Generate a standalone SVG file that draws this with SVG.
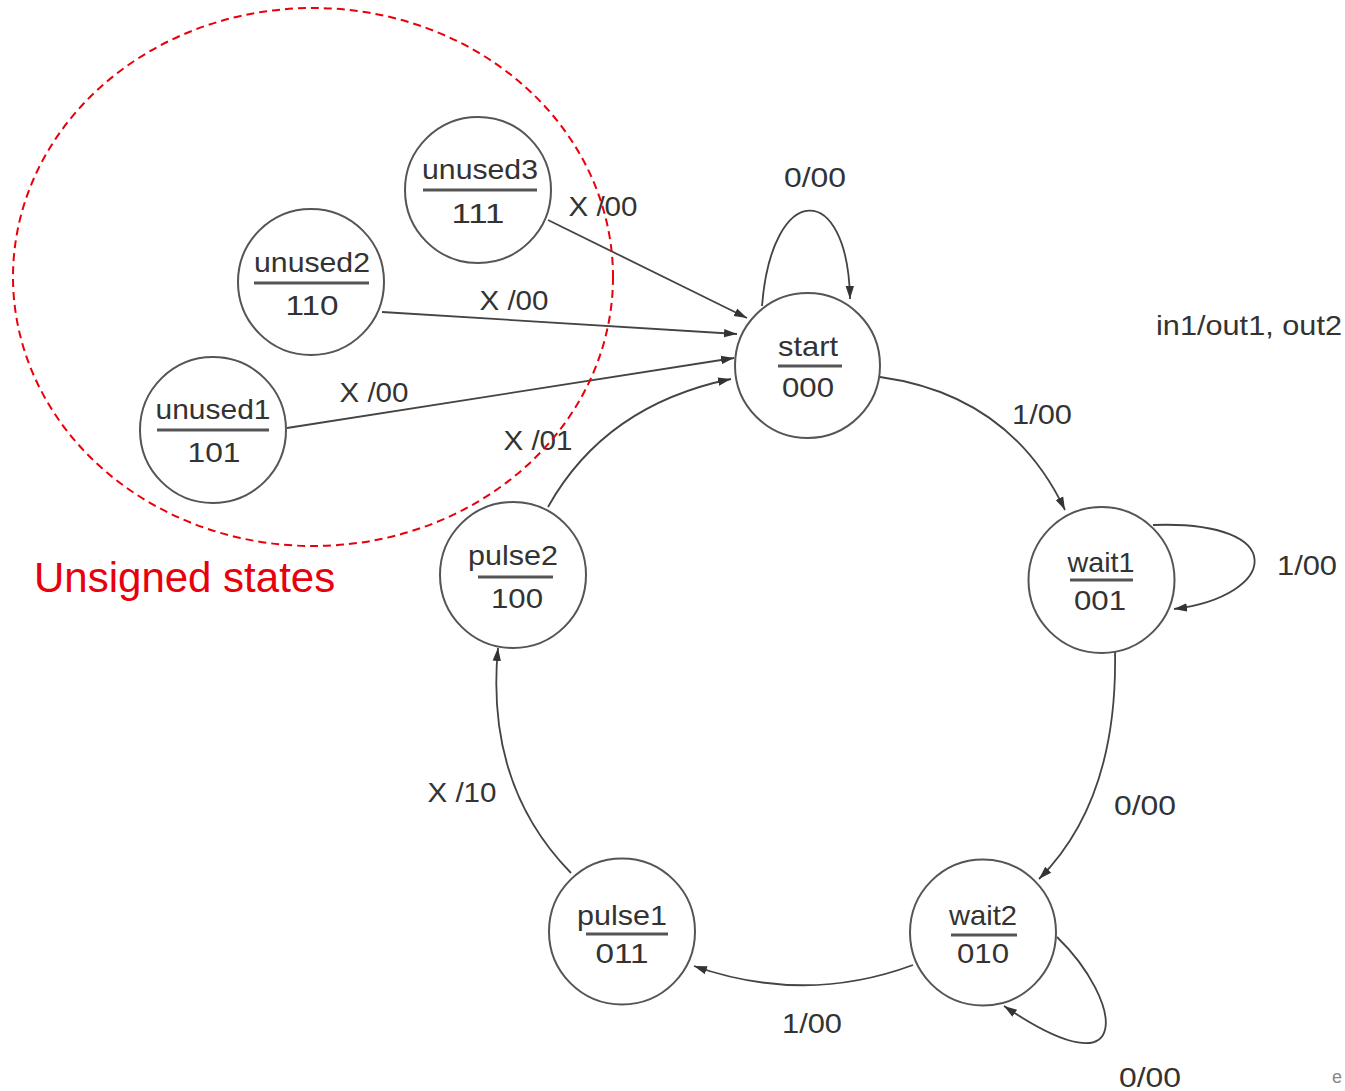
<svg xmlns="http://www.w3.org/2000/svg" width="1345" height="1091" viewBox="0 0 1345 1091">
<style>
.node circle{fill:#fff;stroke:#555;stroke-width:2}
.node line{stroke:#555;stroke-width:3}
text{font-family:"Liberation Sans",Arial,sans-serif;fill:#333;font-size:28px}
.nt{text-anchor:middle}
.lbl{text-anchor:middle}
.edge{fill:none;stroke:#444;stroke-width:1.8}
</style>
<defs>
<marker id="ah" markerWidth="14" markerHeight="10" refX="13" refY="5" orient="auto" markerUnits="userSpaceOnUse">
<path d="M0,0.8 L13,5 L0,9.2 Z" fill="#333"/>
</marker>
</defs>
<rect width="1345" height="1091" fill="#fff"/>
<g id="connectors">
<line class="edge" x1="548" y1="220" x2="747" y2="318" marker-end="url(#ah)"/>
<line class="edge" x1="382" y1="312" x2="737" y2="334" marker-end="url(#ah)"/>
<line class="edge" x1="287" y1="428" x2="734" y2="358" marker-end="url(#ah)"/>
<path class="edge" d="M548,507 Q605,405 731,379" marker-end="url(#ah)"/>
<path class="edge" d="M762,306 C772,180 848,180 850,299" marker-end="url(#ah)"/>
<path class="edge" d="M880,377 Q1010,395 1065,510" marker-end="url(#ah)"/>
<path class="edge" d="M1153,525 C1292,520 1278,596 1174,609" marker-end="url(#ah)"/>
<path class="edge" d="M1115,651 Q1118,800 1039,879" marker-end="url(#ah)"/>
<path class="edge" d="M1057,937 C1122,1000 1138,1097 1004,1006" marker-end="url(#ah)"/>
<path class="edge" d="M913,965 Q805,1005 694,966" marker-end="url(#ah)"/>
<path class="edge" d="M571,873 Q485,785 498,648" marker-end="url(#ah)"/>
</g>
<g id="labels">
<text class="lbl" x="815" y="187" textLength="62" lengthAdjust="spacingAndGlyphs">0/00</text>
<text class="lbl" x="603" y="216" textLength="69" lengthAdjust="spacingAndGlyphs">X /00</text>
<text class="lbl" x="514" y="310" textLength="69" lengthAdjust="spacingAndGlyphs">X /00</text>
<text class="lbl" x="374" y="402" textLength="69" lengthAdjust="spacingAndGlyphs">X /00</text>
<text class="lbl" x="538" y="450" textLength="69" lengthAdjust="spacingAndGlyphs">X /01</text>
<text class="lbl" x="1042" y="424" textLength="60" lengthAdjust="spacingAndGlyphs">1/00</text>
<text class="lbl" x="1307" y="575" textLength="60" lengthAdjust="spacingAndGlyphs">1/00</text>
<text class="lbl" x="1145" y="815" textLength="62" lengthAdjust="spacingAndGlyphs">0/00</text>
<text class="lbl" x="1150" y="1087" textLength="62" lengthAdjust="spacingAndGlyphs">0/00</text>
<text class="lbl" x="812" y="1033" textLength="60" lengthAdjust="spacingAndGlyphs">1/00</text>
<text class="lbl" x="462" y="802" textLength="69" lengthAdjust="spacingAndGlyphs">X /10</text>
<text x="1156" y="335" textLength="186" lengthAdjust="spacingAndGlyphs">in1/out1, out2</text>
<text x="1332" y="1083" style="font-size:18px;fill:#888">e</text>
</g>
<g id="unused3" class="node">
<circle cx="478" cy="190" r="73"/>
<text class="nt" x="480" y="179" textLength="116" lengthAdjust="spacingAndGlyphs">unused3</text>
<line x1="423" y1="190" x2="537" y2="190"/>
<text class="nt" x="478" y="223" textLength="53" lengthAdjust="spacingAndGlyphs">111</text>
</g>
<g id="unused2" class="node">
<circle cx="311" cy="282" r="73"/>
<text class="nt" x="312" y="272" textLength="116" lengthAdjust="spacingAndGlyphs">unused2</text>
<line x1="254" y1="283" x2="369" y2="283"/>
<text class="nt" x="312" y="315" textLength="53" lengthAdjust="spacingAndGlyphs">110</text>
</g>
<g id="unused1" class="node">
<circle cx="213" cy="430" r="73"/>
<text class="nt" x="213" y="419" textLength="115" lengthAdjust="spacingAndGlyphs">unused1</text>
<line x1="157" y1="430" x2="269" y2="430"/>
<text class="nt" x="214" y="462" textLength="53" lengthAdjust="spacingAndGlyphs">101</text>
</g>
<g id="start" class="node">
<circle cx="807.5" cy="365.5" r="72.5"/>
<text class="nt" x="808" y="356" textLength="60" lengthAdjust="spacingAndGlyphs">start</text>
<line x1="778" y1="366" x2="842" y2="366"/>
<text class="nt" x="808" y="397" textLength="52" lengthAdjust="spacingAndGlyphs">000</text>
</g>
<g id="wait1" class="node">
<circle cx="1101.5" cy="580" r="73"/>
<text class="nt" x="1101" y="572" textLength="67" lengthAdjust="spacingAndGlyphs">wait1</text>
<line x1="1070" y1="580" x2="1133" y2="580"/>
<text class="nt" x="1100" y="610" textLength="52" lengthAdjust="spacingAndGlyphs">001</text>
</g>
<g id="wait2" class="node">
<circle cx="983" cy="932.5" r="73"/>
<text class="nt" x="983" y="925" textLength="68" lengthAdjust="spacingAndGlyphs">wait2</text>
<line x1="951" y1="935" x2="1017" y2="935"/>
<text class="nt" x="983" y="963" textLength="52" lengthAdjust="spacingAndGlyphs">010</text>
</g>
<g id="pulse1" class="node">
<circle cx="622" cy="931.5" r="73"/>
<text class="nt" x="622" y="925" textLength="90" lengthAdjust="spacingAndGlyphs">pulse1</text>
<line x1="586" y1="934" x2="668" y2="934"/>
<text class="nt" x="622" y="963" textLength="53" lengthAdjust="spacingAndGlyphs">011</text>
</g>
<g id="pulse2" class="node">
<circle cx="513" cy="575" r="73"/>
<text class="nt" x="513" y="565" textLength="90" lengthAdjust="spacingAndGlyphs">pulse2</text>
<line x1="478" y1="577" x2="553" y2="577"/>
<text class="nt" x="517" y="608" textLength="52" lengthAdjust="spacingAndGlyphs">100</text>
</g>
<g id="unsigned-group">
<ellipse cx="313" cy="277" rx="300" ry="269" fill="none" stroke="#e8000b" stroke-width="2" stroke-dasharray="8 5"/>
<text x="34" y="592" style="font-size:42px;fill:#e8000b">Unsigned states</text>
</g>
</svg>
